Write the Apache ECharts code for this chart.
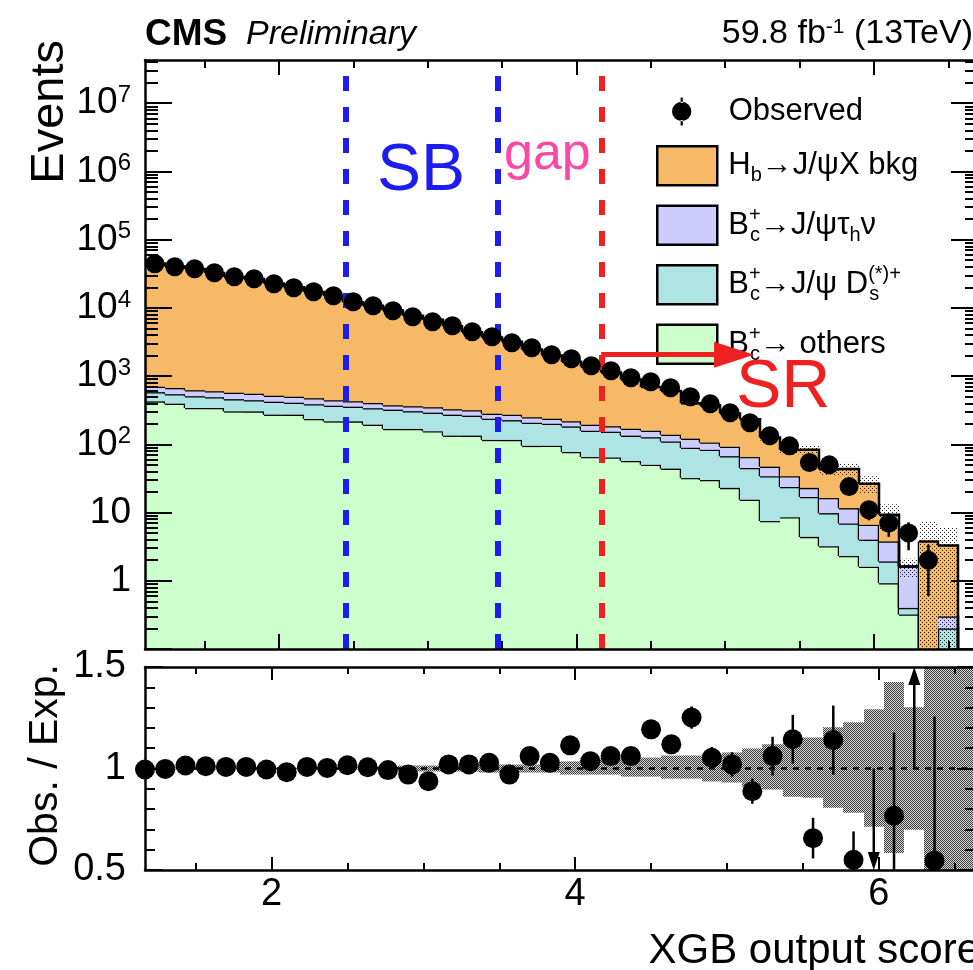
<!DOCTYPE html>
<html>
<head>
<meta charset="utf-8">
<script src="https://cdn.jsdelivr.net/npm/echarts@6/dist/echarts.min.js"></script>
<style>
  html, body { margin: 0; background: #fff; }
  #chart { width: 973px; height: 970px; }
</style>
</head>
<body>
<div id="chart"></div>
<script>
// binning of the XGB score histogram (upper panel frame = first to last bin edge)
const nBins = 42;
const xLo = 1.1, xHi = 6.7;
const binW = (xHi - xLo) / nBins;
// ratio panel runs from the first to the last bin centre
const rLo = xLo + binW / 2, rHi = xHi - binW / 2;

// stacked expectations, per bin (events)
const others = [426, 394, 341, 341, 304, 304, 272, 272, 235, 217, 217, 194, 168, 168, 155, 134, 134, 116, 116, 95, 95,
  77, 65, 64, 57, 50, 44, 32, 30, 23, 15.4, 7.5, 8.5, 4.4, 3.2, 2.3, 1.6, 0.92, 0.32, 0, 0, 0];
const dsStar = [155, 149, 166, 149, 155, 139, 149, 135, 152, 151, 139, 144, 154, 138, 136, 138, 129, 121, 110, 112, 105,
  106, 93, 89, 77, 77, 66, 57, 53, 44, 29.6, 26.5, 15.2, 12.5, 6.6, 4.6, 2.4, 1.0, 0.08, 0, 0.2, 0];
const tauNu = [118, 126, 114, 111, 112, 109, 95, 92, 87, 75, 73, 65, 52, 56, 59, 55, 53, 44, 46, 43, 37,
  35, 36, 31, 35, 31, 28, 32, 23, 25, 20, 13, 10.3, 6.1, 6.5, 4.7, 2.6, 1.85, 1.22, 0, 0.1, 0];
const hbBkg = [43980, 39610, 36380, 31860, 27860, 26040, 22230, 19640, 16670, 14610, 11710, 10300, 8800, 7300, 6350,
  5040, 4070, 3400, 2910, 2210, 1770, 1400, 1180, 950, 725, 536, 466, 278, 268, 192, 168, 79, 49, 60, 27, 32, 19.8,
  5.5, 0, 3.77, 2.99, 0];

// data
const observed = [44460, 40200, 37560, 32820, 28660, 26800, 22640, 19780, 17280, 15100, 12330, 10770, 9100, 7430, 6280,
  5480, 4480, 3780, 3090, 2610, 2060, 1800, 1420, 1200, 948, 828, 676, 499, 394, 290, 207, 134, 95, 54, 50, 24, 11,
  7, 5, 2, 0, 0];
const obsErr = [211, 200, 194, 181, 169, 164, 150, 141, 131, 123, 111, 104, 95, 86, 79, 74, 67, 61, 56, 51, 45,
  42, 38, 35, 31, 29, 26, 22, 20, 17, 14, 12, 10, 7.3, 7.1, 4.9, 3.3, 2.6, 2.2, 1.4, 0, 0];

// ratio panel
const ratio = [0.995, 0.998, 1.015, 1.011, 1.008, 1.008, 0.995, 0.982, 1.008, 1.003, 1.016, 1.006, 0.992, 0.970, 0.937,
  1.020, 1.020, 1.028, 0.970, 1.061, 1.028, 1.114, 1.036, 1.061, 1.061, 1.193, 1.119, 1.251, 1.053, 1.020, 0.888,
  1.061, 1.144, 0.657, 1.140, 0.550, 0.42, 0.767, 3.1, 0.546, null, null];
const ratioErrHi = [0.005, 0.005, 0.005, 0.006, 0.006, 0.006, 0.007, 0.007, 0.008, 0.008, 0.009, 0.01, 0.01, 0.011,
  0.012, 0.014, 0.015, 0.017, 0.018, 0.02, 0.022, 0.026, 0.028, 0.031, 0.035, 0.042, 0.043, 0.055, 0.053, 0.06, 0.062,
  0.095, 0.12, 0.1, 0.17, 0.14, 0, 0.41, 0, 0.71, 0, 0];
const ratioErrLo = [0.005, 0.005, 0.005, 0.006, 0.006, 0.006, 0.007, 0.007, 0.008, 0.008, 0.009, 0.01, 0.01, 0.011,
  0.012, 0.014, 0.015, 0.017, 0.018, 0.02, 0.022, 0.026, 0.028, 0.031, 0.035, 0.042, 0.043, 0.055, 0.053, 0.06, 0.062,
  0.095, 0.12, 0.1, 0.17, 0.12, 0, 0.28, 0, 0.34, 0, 0];
// relative uncertainty of the expectation
const uncLo = [0.995, 0.995, 0.995, 0.995, 0.995, 0.995, 0.995, 0.995, 0.995, 0.995, 0.995, 0.995, 0.99, 0.985, 0.985,
  0.985, 0.985, 0.98, 0.98, 0.98, 0.98, 0.970, 0.970, 0.970, 0.960, 0.960, 0.950, 0.950, 0.936, 0.931, 0.911, 0.896,
  0.861, 0.856, 0.807, 0.782, 0.713, 0.584, 0.698, 0, 0, 0];
const uncHi = [1.005, 1.005, 1.005, 1.005, 1.005, 1.005, 1.005, 1.005, 1.005, 1.005, 1.005, 1.005, 1.01, 1.015, 1.015,
  1.015, 1.015, 1.02, 1.02, 1.02, 1.02, 1.035, 1.050, 1.050, 1.054, 1.054, 1.064, 1.064, 1.069, 1.079, 1.099, 1.119,
  1.153, 1.153, 1.203, 1.228, 1.292, 1.426, 1.302, 1.94, 1.87, 2.0];

// region boundaries (upper-panel x units) and SR arrow
const sbLines = [2.452, 3.467];
const srLine = 4.167;
const srArrowEnd = 5.06, srArrowY = 2060;

// axes
const yMin = 0.1, yMax = 4.3e7;
const decades = [0.1, 1, 10, 100, 1e3, 1e4, 1e5, 1e6, 1e7];
const decadeLabels = [1, 10, 100, 1e3, 1e4, 1e5, 1e6, 1e7];
const xMajor = [2, 4, 6];
const xMinor = [1.5, 2, 2.5, 3, 3.5, 4, 4.5, 5, 5.5, 6, 6.5];
const ratioMin = 0.5, ratioMax = 1.5;
const ratioMajor = [0.5, 1, 1.5];
const ratioMinor = [0.6, 0.7, 0.8, 0.9, 1.1, 1.2, 1.3, 1.4];

const names = {
  hb: 'Hb→J/ψX bkg',
  tau: 'Bc+→J/ψτhν',
  ds: 'Bc+→J/ψ Ds(*)+',
  oth: 'Bc+→ others'
};
const richNames = {};
richNames[names.hb] = 'H{sub|b}→J/ψX bkg';
richNames[names.tau] = 'B{sup|+}{sub|c}→J/ψτ{sub|h}ν';
richNames[names.ds] = 'B{sup|+}{sub|c}→J/ψ D{sup|(*)+}{sub|s}';
richNames[names.oth] = 'B{sup|+}{sub|c}→ others';

const FONT = '"Liberation Sans", Arial, Helvetica, sans-serif';
const yFloor = 1e-3; // stand-in for empty bins on the log axis (falls below the frame)

const minorLog = [];
decades.forEach(d => { for (let k = 2; k <= 9; k++) if (d * k < yMax) minorLog.push(d * k); });

const edges = Array.from({ length: nBins + 1 }, (_, i) => xLo + i * binW);
const centers = edges.slice(0, nBins).map(e => e + binW / 2);

// cumulative stack (bottom to top)
const comps = [others, dsStar, tauNu, hbBkg];
const cum = [];
let run = new Array(nBins).fill(0);
comps.forEach(c => {
  const lo = run;
  run = run.map((v, i) => v + c[i]);
  cum.push({ lo, hi: run });
});
const total = run;

function histData(k) {
  return centers.map((_, i) => [edges[i], edges[i + 1], cum[k].lo[i], cum[k].hi[i],
    i + 1 < nBins ? cum[k].hi[i + 1] : 0]);
}

function renderHist(params, api) {
  const x0 = api.value(0), x1 = api.value(1);
  const py = v => api.coord([x0, Math.max(v, yFloor)])[1];
  const px0 = Math.round(api.coord([x0, 1])[0]);
  const px1 = Math.round(api.coord([x1, 1])[0]);
  const yl = py(api.value(2)), yh = py(api.value(3)), yn = py(api.value(4));
  const kids = [];
  if (yl - yh > 0.1) {
    kids.push({ type: 'rect', shape: { x: px0, y: yh, width: px1 - px0, height: yl - yh },
      style: { fill: api.visual('color') } });
  }
  kids.push({ type: 'polyline', shape: { points: [[px0, yh], [px1, yh], [px1, yn]] },
    style: { stroke: '#000', lineWidth: 2.5, fill: null } });
  return { type: 'group', children: kids };
}

function makePattern(size, cells, bg, fg) {
  const c = document.createElement('canvas');
  c.width = c.height = size;
  const g = c.getContext('2d');
  if (bg) { g.fillStyle = bg; g.fillRect(0, 0, size, size); }
  g.fillStyle = fg;
  cells.forEach(([x, y]) => g.fillRect(x, y, 1, 1));
  return c;
}
const dotPattern = makePattern(4, [[0, 0], [2, 2]], null, 'rgba(0,0,0,0.85)');
const checkPattern = makePattern(2, [[0, 0], [1, 1]], '#d8d8d8', '#3a3a3a');

function renderBand(pattern, floor) {
  return function (params, api) {
    const x0 = api.value(0), x1 = api.value(1);
    const lo = Math.max(api.value(2), floor), hi = Math.max(api.value(3), floor);
    const p0 = api.coord([x0, lo]), p1 = api.coord([x1, hi]);
    const px0 = Math.round(p0[0]), px1 = Math.round(p1[0]);
    return { type: 'rect', shape: { x: px0, y: p1[1], width: px1 - px0, height: p0[1] - p1[1] },
      style: { fill: { image: pattern, repeat: 'repeat' } } };
  };
}

function renderErr(params, api) {
  const a = api.coord([api.value(0), api.value(1)]);
  const b = api.coord([api.value(0), api.value(2)]);
  return { type: 'line', shape: { x1: a[0], y1: a[1], x2: b[0], y2: b[1] },
    style: { stroke: '#000', lineWidth: 2.5 } };
}

function renderArrow(params, api) {
  const xc = api.value(0);
  const up = api.value(1) > ratioMax;
  const start = api.coord([xc, 1]);
  const tip = api.coord([xc, up ? ratioMax : ratioMin]);
  const head = 18, half = 6;
  const base = tip[1] + (up ? head : -head);
  return { type: 'group', children: [
    { type: 'line', shape: { x1: start[0], y1: start[1], x2: start[0], y2: base },
      style: { stroke: '#000', lineWidth: 2.5 } },
    { type: 'polygon', shape: { points: [[tip[0], tip[1]], [tip[0] - half, base], [tip[0] + half, base]] },
      style: { fill: '#000' } }
  ] };
}

const black = { color: '#000', width: 2.5 };
function ax(gridIndex, position, min, max, ticks, len, extra) {
  return Object.assign({
    gridIndex, position, min, max, type: 'value', z: 10,
    splitLine: { show: false },
    axisLine: { show: false, onZero: false, lineStyle: black },
    axisLabel: { show: false },
    axisTick: { show: true, inside: true, length: len, customValues: ticks, lineStyle: { color: '#000', width: 2 } }
  }, extra || {});
}
const frame = { axisLine: { show: true, onZero: false, lineStyle: black } };

const supStyle = { fontFamily: FONT, fontSize: 24, lineHeight: 24, verticalAlign: 'top', padding: [0, 0, 28, 0], color: '#000' };

const chart = echarts.init(document.getElementById('chart'), null, { renderer: 'canvas' });
chart.setOption({
  animation: false,
  backgroundColor: '#fff',
  grid: [
    { left: 145, top: 60, width: 833, height: 589, outerBoundsMode: 'none' },
    { left: 145, top: 667, width: 830, height: 203, outerBoundsMode: 'none' }
  ],
  xAxis: [
    ax(0, 'bottom', xLo, xHi, xMajor, 15, frame),
    ax(0, 'bottom', xLo, xHi, xMinor, 8),
    ax(0, 'top', xLo, xHi, xMajor, 15, frame),
    ax(0, 'top', xLo, xHi, xMinor, 8),
    ax(1, 'bottom', rLo, rHi, xMajor, 13, Object.assign({
      axisLabel: { show: true, customValues: xMajor, fontFamily: FONT, fontSize: 38, color: '#000', margin: 6 }
    }, frame)),
    ax(1, 'bottom', rLo, rHi, xMinor, 7),
    ax(1, 'top', rLo, rHi, xMajor, 13, frame),
    ax(1, 'top', rLo, rHi, xMinor, 7)
  ],
  yAxis: [
    ax(0, 'left', yMin, yMax, decades, 27, Object.assign({
      type: 'log', logBase: 10,
      axisLabel: {
        show: true, customValues: decadeLabels, fontFamily: FONT, fontSize: 37, lineHeight: 40,
        color: '#000', margin: 14,
        formatter: v => v < 100 ? String(Math.round(v)) : '10{sup|' + Math.round(Math.log10(v)) + '}',
        rich: { sup: supStyle }
      }
    }, frame)),
    ax(0, 'left', yMin, yMax, minorLog, 13, { type: 'log', logBase: 10 }),
    ax(0, 'right', yMin, yMax, decades, 27, Object.assign({ type: 'log', logBase: 10 }, frame)),
    ax(0, 'right', yMin, yMax, minorLog, 13, { type: 'log', logBase: 10 }),
    ax(1, 'left', ratioMin, ratioMax, ratioMajor, 18, Object.assign({
      axisLabel: { show: true, customValues: ratioMajor, fontFamily: FONT, fontSize: 38, color: '#000', margin: 19 }
    }, frame)),
    ax(1, 'left', ratioMin, ratioMax, ratioMinor, 10),
    ax(1, 'right', ratioMin, ratioMax, ratioMajor, 18, frame),
    ax(1, 'right', ratioMin, ratioMax, ratioMinor, 10)
  ],
  legend: [
    {
      data: [{ name: 'Observed', icon: 'path://M8,0h2v5h-2zM8,21h2v5h-2zM0,13a9,9 0 1,0 18,0a9,9 0 1,0 -18,0z' }],
      left: 667, top: 91, itemWidth: 60, itemHeight: 28, selectedMode: false,
      textStyle: { fontFamily: FONT, fontSize: 31, color: '#000', padding: [0, 0, 0, 12] }
    },
    {
      data: [names.hb, names.tau, names.ds, names.oth].map(n => ({ name: n, icon: 'rect' })),
      orient: 'vertical', left: 651, top: 140, itemWidth: 60, itemHeight: 39, itemGap: 18,
      selectedMode: false,
      itemStyle: { borderColor: '#000', borderWidth: 2.5 },
      formatter: n => richNames[n],
      textStyle: {
        fontFamily: FONT, fontSize: 31, lineHeight: 40, color: '#000', padding: [0, 0, 0, 6],
        rich: {
          sub: { fontFamily: FONT, fontSize: 20, lineHeight: 20, verticalAlign: 'bottom', color: '#000' },
          sup: { fontFamily: FONT, fontSize: 20, lineHeight: 20, verticalAlign: 'top', width: 1, color: '#000' }
        }
      }
    }
  ],
  graphic: [
    { type: 'text', x: 145, y: 35, style: { text: 'CMS', font: 'bold 37px ' + FONT, fill: '#000', verticalAlign: 'middle' } },
    { type: 'text', x: 246, y: 35, style: { text: 'Preliminary', font: 'italic 34px ' + FONT, fill: '#000', verticalAlign: 'middle' } },
    { type: 'text', x: 973, y: 34, style: {
      text: '59.8 fb{sup|-1} (13TeV)', font: '34px ' + FONT, fill: '#000', align: 'right', verticalAlign: 'middle',
      rich: { sup: { fontFamily: FONT, fontSize: 21, lineHeight: 20, verticalAlign: 'top', fill: '#000' } }
    } },
    { type: 'text', x: 377, y: 172, style: { text: 'SB', font: '66px ' + FONT, fill: '#1d1df0', verticalAlign: 'middle' } },
    { type: 'text', x: 504, y: 155, style: { text: 'gap', font: '52px ' + FONT, fill: '#ff48a4', verticalAlign: 'middle' } },
    { type: 'text', x: 736, y: 388, style: { text: 'SR', font: '68px ' + FONT, fill: '#ee2020', verticalAlign: 'middle' } },
    { type: 'text', x: 50, y: 40, rotation: Math.PI / 2,
      style: { text: 'Events', font: '47px ' + FONT, fill: '#000', align: 'right', verticalAlign: 'middle' } },
    { type: 'text', x: 46, y: 664, rotation: Math.PI / 2,
      style: { text: 'Obs. / Exp.', font: '41px ' + FONT, fill: '#000', align: 'right', verticalAlign: 'middle' } },
    { type: 'text', x: 980, y: 951,
      style: { text: 'XGB output score', font: '42px ' + FONT, fill: '#000', align: 'right', verticalAlign: 'middle' } }
  ],
  series: [
    { name: names.oth, type: 'custom', xAxisIndex: 0, yAxisIndex: 0, z: 2, clip: true,
      itemStyle: { color: '#ccffcc' }, renderItem: renderHist, data: histData(0) },
    { name: names.ds, type: 'custom', xAxisIndex: 0, yAxisIndex: 0, z: 2, clip: true,
      itemStyle: { color: '#afe4e4' }, renderItem: renderHist, data: histData(1) },
    { name: names.tau, type: 'custom', xAxisIndex: 0, yAxisIndex: 0, z: 2, clip: true,
      itemStyle: { color: '#ccccfd' }, renderItem: renderHist, data: histData(2) },
    { name: names.hb, type: 'custom', xAxisIndex: 0, yAxisIndex: 0, z: 2, clip: true,
      itemStyle: { color: '#f6b967' }, renderItem: renderHist, data: histData(3) },
    {
      name: 'Exp. unc.', type: 'custom', xAxisIndex: 0, yAxisIndex: 0, z: 3, clip: true,
      renderItem: renderBand(dotPattern, yFloor),
      data: centers.map((_, i) => [edges[i], edges[i + 1], total[i] * uncLo[i], total[i] * uncHi[i]])
        .filter((d, i) => total[i] > 0),
      markLine: {
        silent: true, symbol: 'none', label: { show: false },
        data: [
          ...sbLines.map(v => ({ xAxis: v, lineStyle: { color: '#1d1df0', width: 6, type: [15, 16], cap: 'butt' } })),
          { xAxis: srLine, lineStyle: { color: '#ee2020', width: 6, type: [15, 16], cap: 'butt' } },
          [
            { coord: [srLine, srArrowY], symbol: 'none', lineStyle: { color: '#ee2020', width: 5, type: 'solid' } },
            { coord: [srArrowEnd, srArrowY], symbol: 'triangle', symbolSize: [26, 40] }
          ]
        ]
      }
    },
    { name: 'Obs. err', type: 'custom', xAxisIndex: 0, yAxisIndex: 0, z: 4, clip: true, renderItem: renderErr,
      data: centers.map((c, i) => [c, observed[i] - obsErr[i], observed[i] + obsErr[i]]).filter((d, i) => observed[i] > 0) },
    { name: 'Observed', type: 'scatter', xAxisIndex: 0, yAxisIndex: 0, z: 5, symbolSize: 19,
      itemStyle: { color: '#000', opacity: 1 },
      data: centers.map((c, i) => [c, observed[i]]).filter((d, i) => observed[i] > 0) },

    {
      name: 'Ratio unc.', type: 'custom', xAxisIndex: 4, yAxisIndex: 4, z: 2, clip: true,
      renderItem: renderBand(checkPattern, -1),
      data: centers.map((c, i) => [c - binW / 2, c + binW / 2, uncLo[i], uncHi[i]]),
      markLine: {
        silent: true, symbol: 'none', label: { show: false },
        lineStyle: { color: '#000', width: 2.5, type: [6, 6] },
        data: [{ yAxis: 1 }]
      }
    },
    { name: 'Ratio err', type: 'custom', xAxisIndex: 4, yAxisIndex: 4, z: 4, clip: true, renderItem: renderErr,
      data: centers.map((c, i) => [c, ratio[i] - ratioErrLo[i], ratio[i] + ratioErrHi[i]])
        .filter((d, i) => ratio[i] != null && ratio[i] >= ratioMin && ratio[i] <= ratioMax) },
    { name: 'Ratio out of range', type: 'custom', xAxisIndex: 4, yAxisIndex: 4, z: 4, renderItem: renderArrow,
      data: centers.map((c, i) => [c, ratio[i]])
        .filter((d, i) => ratio[i] != null && (ratio[i] < ratioMin || ratio[i] > ratioMax)) },
    { name: 'Ratio', type: 'scatter', xAxisIndex: 4, yAxisIndex: 4, z: 5, symbolSize: 20,
      itemStyle: { color: '#000', opacity: 1 },
      data: centers.map((c, i) => [c, ratio[i]])
        .filter((d, i) => ratio[i] != null && ratio[i] >= ratioMin && ratio[i] <= ratioMax) }
  ]
});
</script>
</body>
</html>
